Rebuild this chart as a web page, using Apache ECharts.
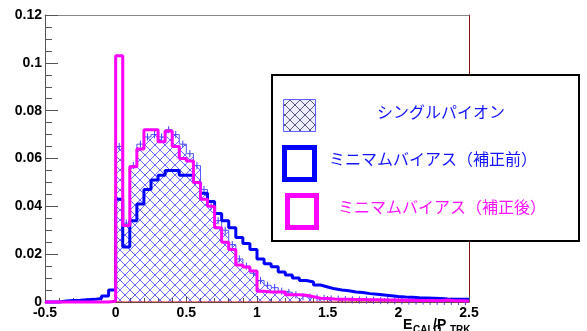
<!DOCTYPE html>
<html><head><meta charset="utf-8">
<script src="https://cdn.jsdelivr.net/npm/echarts@6/dist/echarts.min.js"></script>
<style>html,body{margin:0;padding:0;background:#fff}#c{width:587px;height:331px}</style>
</head><body><div id="c"></div>
<script>
// Histogram binning: 60 bins of width 0.05 from -0.5 to 2.5
const binStart = -0.5;
const binWidth = 0.05;
const xMin = -0.5, xMax = 2.5;
const yMin = 0, yMax = 0.12;

// シングルパイオン (hatched)
const singlePion = [
  0,0,0,0,0,0,0,0,0,0,
  0.065,0.033,0.057,0.066,0.069,0.070,0.069,0.072,0.070,0.066,
  0.062,0.057,0.047,0.040,0.034,0.030,0.024,0.018,0.015,0.012,
  0.009,0.007,0.006,0.0045,0.004,0.003,0.0022,0.002,0.0017,0.0015,
  0.0013,0.0012,0.001,0.0009,0.0008,0.0008,0.0007,0.0006,0.0006,0.0005,
  0.0005,0.0004,0.0004,0.0004,0.0003,0.0003,0.0003,0.0003,0.0002,0.0002
];
// ミニマムバイアス(補正前)
const minBiasBefore = [
  0,0,0.0004,0.0006,0.0007,0.0009,0.0011,0.0015,0.0025,0.005,
  0.043,0.023,0.034,0.041,0.047,0.051,0.053,0.055,0.055,0.053,
  0.053,0.050,0.0455,0.042,0.037,0.034,0.031,0.027,0.0245,0.022,
  0.018,0.016,0.0147,0.0125,0.0113,0.010,0.009,0.0084,0.0071,0.0063,
  0.0055,0.005,0.0047,0.0042,0.004,0.0035,0.0032,0.0029,0.0026,0.0023,
  0.0021,0.002,0.0018,0.0017,0.0016,0.0015,0.0013,0.0012,0.0012,0.0011
];
// ミニマムバイアス(補正後)
const minBiasAfter = [
  0,0,0,0,0,0,0,0,0,0.0003,
  0.103,0.032,0.0565,0.064,0.072,0.072,0.067,0.0715,0.065,0.060,
  0.059,0.050,0.043,0.040,0.031,0.025,0.022,0.0155,0.0146,0.013,
  0.0045,0.0042,0.0042,0.0042,0.003,0.003,0.0028,0.0022,0.0016,0.0015,
  0.0013,0.0012,0.0011,0.001,0.001,0.0009,0.0009,0.0008,0.0008,0.0008,
  0.0007,0.0007,0.0006,0.0006,0.0006,0.0005,0.0008,0.0005,0.0005,0.0004
];
const legendNames = ['シングルパイオン','ミニマムバイアス（補正前）','ミニマムバイアス（補正後）'];
const errHalf = 0.0015;

function stepData(vals){
  const d = vals.map((v,i)=>[binStart + i*binWidth, v]);
  d.push([binStart + vals.length*binWidth, vals[vals.length-1]]);
  return d;
}

// crosshatch pattern
const pc = document.createElement('canvas');
pc.width = 10; pc.height = 10;
const g = pc.getContext('2d');
g.strokeStyle = 'rgba(50,50,255,0.75)';
g.lineWidth = 1;
g.beginPath();
g.moveTo(0,0); g.lineTo(10,10);
g.moveTo(0,10); g.lineTo(10,0);
g.stroke();
const hatch = {image: pc, repeat: 'repeat'};

const pc2 = document.createElement('canvas');
pc2.width = 10; pc2.height = 10;
const g2 = pc2.getContext('2d');
g2.fillStyle = '#eeeefa'; g2.fillRect(0,0,10,10);
g2.strokeStyle = 'rgba(70,70,120,0.9)';
g2.lineWidth = 1;
g2.beginPath();
g2.moveTo(0,0); g2.lineTo(10,10);
g2.moveTo(0,10); g2.lineTo(10,0);
g2.stroke();
const hatchLegend = {image: pc2, repeat: 'repeat'};

const chart = echarts.init(document.getElementById('c'), null, {renderer:'canvas'});
const labelFont = {fontFamily:'Liberation Sans, Arial, sans-serif', fontWeight:'bold', fontSize:14, color:'#000'};
const cjk = '"Noto Sans CJK JP", sans-serif';

chart.setOption({
  animation:false,
  backgroundColor:'#fff',
  grid:{left:45, right:118, top:15, bottom:29},
  xAxis:[{
    type:'value', min:xMin, max:xMax, interval:0.5,
    axisLine:{show:true, onZero:false, lineStyle:{color:'#555', width:1}},
    axisTick:{show:true, inside:true, length:6, lineStyle:{color:'#555'}},
    minorTick:{show:true, splitNumber:5, length:4, lineStyle:{color:'#555'}},
    splitLine:{show:false},
    axisLabel:Object.assign({margin:4}, labelFont)
  },{
    type:'value', position:'top', min:xMin, max:xMax,
    axisLine:{show:true, onZero:false, lineStyle:{color:'#888', width:1}},
    axisTick:{show:false}, axisLabel:{show:false}, splitLine:{show:false}
  }],
  yAxis:[{
    type:'value', min:yMin, max:yMax, interval:0.02,
    axisLine:{show:true, onZero:false, lineStyle:{color:'#555', width:1}},
    axisTick:{show:true, inside:true, length:13, lineStyle:{color:'#555'}},
    minorTick:{show:true, splitNumber:4, length:7, lineStyle:{color:'#555'}},
    splitLine:{show:false},
    axisLabel:Object.assign({margin:3}, labelFont)
  },{
    type:'value', position:'right', min:yMin, max:yMax,
    axisLine:{show:true, onZero:false, lineStyle:{color:'#8b1010', width:1}},
    axisTick:{show:false}, axisLabel:{show:false}, splitLine:{show:false}
  }],
  series:[
    {
      name:legendNames[0], type:'line', step:'end', data:stepData(singlePion),
      symbol:'none', lineStyle:{color:'#5050ff', width:1},
      areaStyle:{color:hatch, opacity:1}, z:2
    },
    {
      name:'err', type:'custom', z:3,
      data:singlePion.map((v,i)=>[binStart+(i+0.5)*binWidth, v]).filter(d=>d[1]>0),
      renderItem:function(params, api){
        const x = api.value(0), v = api.value(1);
        const p1 = api.coord([x, v-errHalf]), p2 = api.coord([x, v+errHalf]);
        return {type:'line', shape:{x1:p1[0], y1:p1[1], x2:p2[0], y2:p2[1]}, style:{stroke:'#4040ff', lineWidth:1}};
      }
    },
    {
      name:'baseline', type:'line', data:[[0,0],[xMax,0]], symbol:'none',
      lineStyle:{color:'#d01010', width:1}, z:4
    },
    {
      name:legendNames[1], type:'line', step:'end', data:stepData(minBiasBefore),
      symbol:'none', lineStyle:{color:'#0000ff', width:3}, z:5, clip:false
    },
    {
      name:legendNames[2], type:'line', step:'end', data:stepData(minBiasAfter),
      symbol:'none', lineStyle:{color:'#ff00ff', width:3}, z:6, clip:false
    }
  ],
  graphic:[
    {type:'rect', shape:{x:272, y:75, width:307, height:166}, style:{fill:'#fff', stroke:'#000', lineWidth:2}, z:100},
    {type:'rect', shape:{x:283.5, y:99.5, width:32, height:32}, style:{fill:hatchLegend, stroke:'#6060ff', lineWidth:1}, z:101},
    {type:'text', x:377, y:112, style:{text:legendNames[0], fill:'#1414ff', font:'16px '+cjk, textVerticalAlign:'middle'}, z:101},
    {type:'rect', shape:{x:284.5, y:147.5, width:30, height:32}, style:{fill:'#fff', stroke:'#0000ff', lineWidth:5}, z:101},
    {type:'text', x:329, y:159, style:{text:legendNames[1], fill:'#1414ff', font:'16px '+cjk, textVerticalAlign:'middle'}, z:101},
    {type:'rect', shape:{x:287.5, y:195.5, width:29, height:32}, style:{fill:'#fff', stroke:'#ff00ff', lineWidth:5}, z:101},
    {type:'text', x:338, y:207, style:{text:legendNames[2], fill:'#ff14ff', font:'16px '+cjk, textVerticalAlign:'middle'}, z:101},
    {type:'text', x:403, y:318, style:{text:'E', fill:'#000', font:'bold 14px "Liberation Sans", Arial, sans-serif'}, z:101},
    {type:'text', x:413, y:325, style:{text:'CALO', fill:'#000', font:'bold 10px "Liberation Sans", Arial, sans-serif'}, z:101},
    {type:'text', x:433, y:318, style:{text:'/P', fill:'#000', font:'bold 14px "Liberation Sans", Arial, sans-serif'}, z:101},
    {type:'text', x:450, y:325, style:{text:'TRK', fill:'#000', font:'bold 10px "Liberation Sans", Arial, sans-serif'}, z:101}
  ]
});
</script></body></html>
